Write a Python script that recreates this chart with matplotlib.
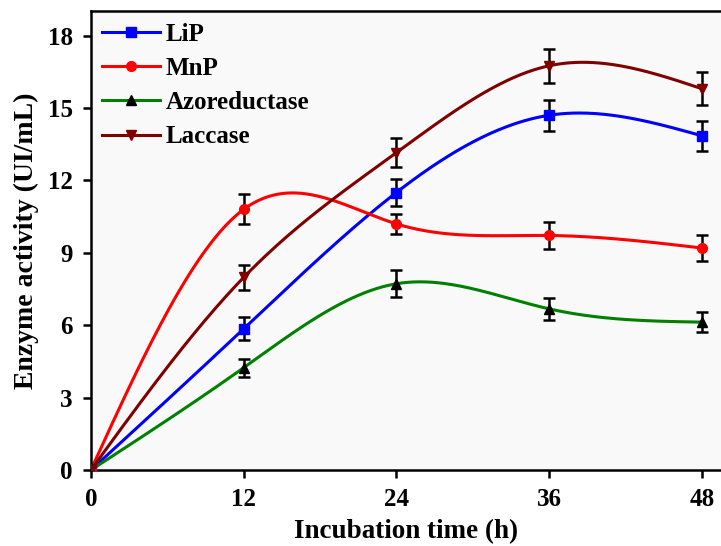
import numpy as np
import matplotlib
matplotlib.use("Agg")
import matplotlib.pyplot as plt

# data
hours = [0, 12, 24, 36, 48]
lip = [0, 5.85, 11.5, 14.7, 13.85]
lip_err = [0, 0.48, 0.55, 0.65, 0.63]
mnp = [0, 10.8, 10.2, 9.72, 9.2]
mnp_err = [0, 0.62, 0.43, 0.57, 0.52]
azo = [0, 4.24, 7.72, 6.68, 6.13]
azo_err = [0, 0.38, 0.55, 0.47, 0.42]
lac = [0, 7.98, 13.15, 16.75, 15.8]
lac_err = [0, 0.52, 0.6, 0.7, 0.68]

labels = ['LiP', 'MnP', 'Azoreductase', 'Laccase']
line_colors = ['#0000ff', '#ff0000', '#008000', '#800000']
marker_colors = ['#0000ff', '#ff0000', '#000000', '#800000']
markers = ['s', 'o', '^', 'v']


def natural_spline(x, y, n=300):
    # natural cubic spline through the points, used only to draw the smooth line
    x = np.asarray(x, float)
    y = np.asarray(y, float)
    k = len(x)
    h = np.diff(x)
    A = np.zeros((k, k))
    b = np.zeros(k)
    A[0, 0] = A[-1, -1] = 1
    for i in range(1, k - 1):
        A[i, i - 1] = h[i - 1]
        A[i, i] = 2 * (h[i - 1] + h[i])
        A[i, i + 1] = h[i]
        b[i] = 6 * ((y[i + 1] - y[i]) / h[i] - (y[i] - y[i - 1]) / h[i - 1])
    M = np.linalg.solve(A, b)
    xs = np.linspace(x[0], x[-1], n)
    ys = np.empty_like(xs)
    for j, t in enumerate(xs):
        i = min(np.searchsorted(x, t, side='right') - 1, k - 2)
        dx1 = x[i + 1] - t
        dx0 = t - x[i]
        ys[j] = (M[i] * dx1**3 + M[i + 1] * dx0**3) / (6 * h[i]) \
            + (y[i] / h[i] - M[i] * h[i] / 6) * dx1 \
            + (y[i + 1] / h[i] - M[i + 1] * h[i] / 6) * dx0
    return xs, ys


plt.rcParams['font.family'] = ['Liberation Serif', 'DejaVu Serif']
plt.rcParams['font.weight'] = 'bold'

fig = plt.figure(figsize=(7.21, 5.46), dpi=100)
ax = fig.add_axes([0.126, 0.139, 0.874, 0.840])
ax.set_facecolor('#f9f9f9')

series = [(lip, lip_err), (mnp, mnp_err), (azo, azo_err), (lac, lac_err)]
for (vals, errs), lab, lc, mc, mk in zip(series, labels, line_colors, marker_colors, markers):
    xs, ys = natural_spline(hours, vals)
    ax.plot(xs, ys, color=lc, lw=2.2, zorder=2)
    ax.errorbar(hours[1:], vals[1:], yerr=errs[1:], fmt='none', ecolor='black',
                elinewidth=1.8, capsize=4.5, capthick=1.8, zorder=3)
    ax.plot(hours, vals, ls='none', marker=mk, color=mc, ms=7, zorder=4)
    # legend proxy
    ax.plot([], [], color=lc, lw=2.2, marker=mk, mfc=mc, mec=mc, ms=7, label=lab)

ax.set_xlim(0, 49.5)
ax.set_ylim(0, 19)
ax.set_xticks([0, 12, 24, 36, 48])
ax.set_yticks([0, 3, 6, 9, 12, 15, 18])
ax.tick_params(direction='out', length=6, width=1.8, labelsize=18)
ax.tick_params(axis='x', pad=7)
ax.tick_params(axis='y', pad=7)
for lab in ax.get_xticklabels() + ax.get_yticklabels():
    lab.set_fontweight('bold')
for s in ['left', 'bottom', 'top']:
    ax.spines[s].set_linewidth(1.8)
ax.spines['right'].set_visible(False)

ax.set_xlabel('Incubation time (h)', fontsize=19.5, fontweight='bold', labelpad=6)
ax.set_ylabel('Enzyme activity (UI/mL)', fontsize=20, fontweight='bold', labelpad=6)

leg = ax.legend(loc='upper left', frameon=False, handlelength=2.3,
                labelspacing=0.45, borderaxespad=0.0, borderpad=0.45,
                handletextpad=0.25, prop={'weight': 'bold', 'size': 18})

fig.savefig('out.png', dpi=100)
